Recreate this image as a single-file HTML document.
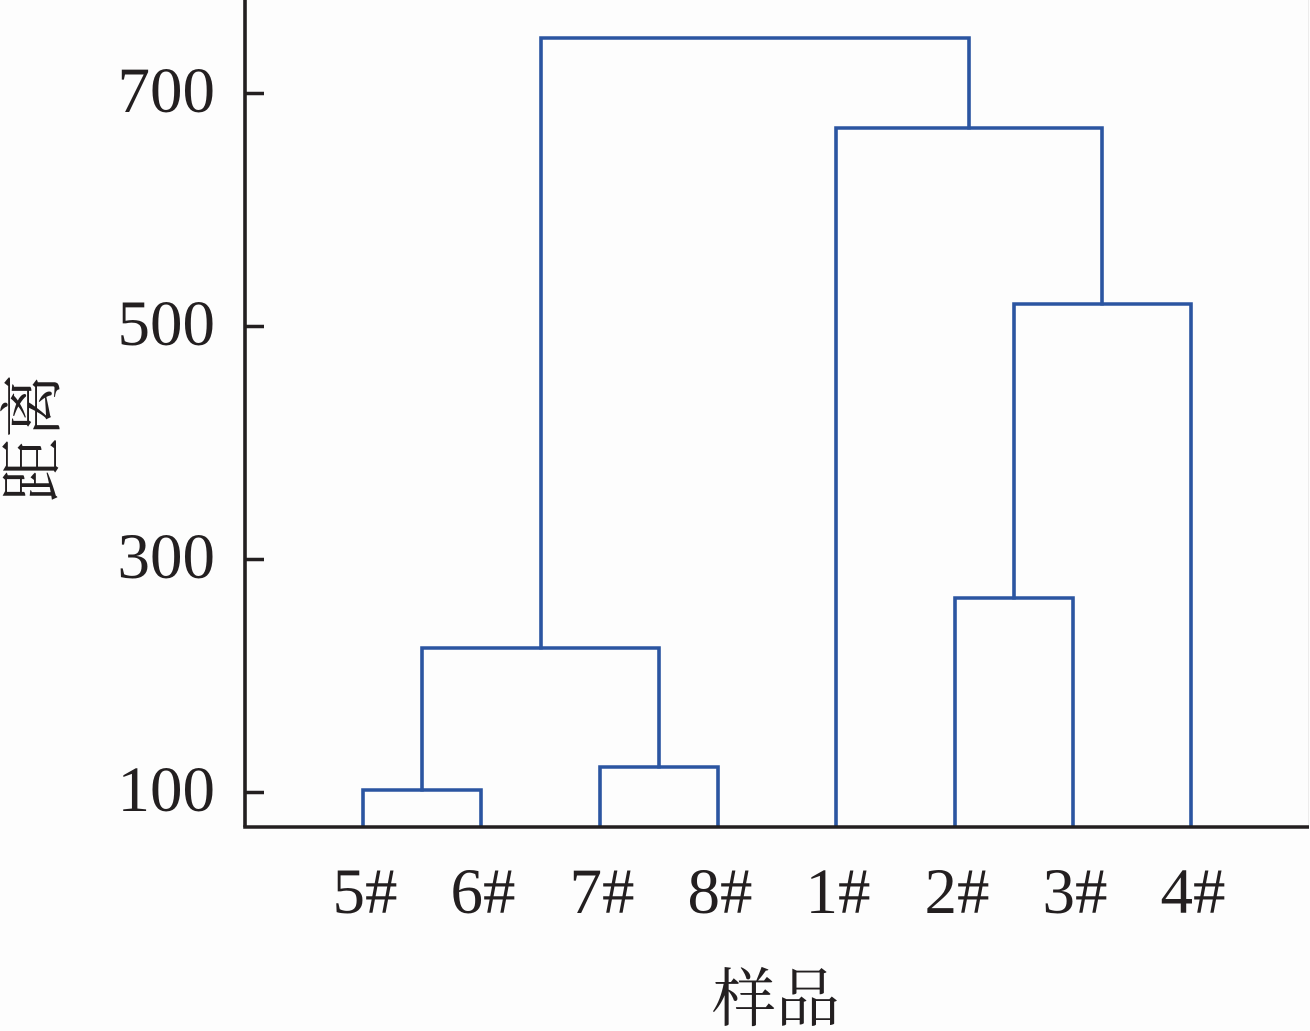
<!DOCTYPE html>
<html><head><meta charset="utf-8">
<style>
html,body{margin:0;padding:0;background:#fdfdfd;}
svg{display:block;}
.num{font-family:"Liberation Serif","Times New Roman",serif;font-size:65px;fill:#231f20;}
.cjk{font-family:"Liberation Serif","Noto Serif CJK SC",serif;font-size:64px;fill:#231f20;}
</style></head>
<body>
<svg width="1310" height="1031" viewBox="0 0 1310 1031" xmlns="http://www.w3.org/2000/svg">
<rect x="0" y="0" width="1310" height="1031" fill="#fdfdfd"/>
<line x1="1308.5" y1="0" x2="1308.5" y2="826" stroke="#ececec" stroke-width="1"/>
<!-- dendrogram -->
<g fill="none" stroke="#2b55a1" stroke-width="3.6" stroke-linecap="square" stroke-linejoin="miter">
  <polyline points="363,826 363,790 481,790 481,826"/>
  <polyline points="600,826 600,767 718,767 718,826"/>
  <polyline points="422,790 422,648 659,648 659,767"/>
  <polyline points="955,826 955,598 1073,598 1073,826"/>
  <polyline points="1014,598 1014,304 1191,304 1191,826"/>
  <polyline points="836,826 836,128 1102,128 1102,304"/>
  <polyline points="541,648 541,38 969,38 969,128"/>
</g>
<!-- axes -->
<g stroke="#231f20" stroke-width="3.6" fill="none">
  <line x1="245" y1="0" x2="245" y2="827"/>
  <line x1="243.2" y1="827" x2="1309" y2="827"/>
  <line x1="245" y1="93.5" x2="264" y2="93.5"/>
  <line x1="245" y1="326.5" x2="264" y2="326.5"/>
  <line x1="245" y1="559.5" x2="264" y2="559.5"/>
  <line x1="245" y1="792.5" x2="264" y2="792.5"/>
</g>
<g class="num" text-anchor="end">
  <text x="215" y="112">700</text>
  <text x="215" y="345">500</text>
  <text x="215" y="578">300</text>
  <text x="215" y="811">100</text>
</g>
<g class="num" text-anchor="middle">
  <text x="365" y="913">5#</text>
  <text x="483" y="913">6#</text>
  <text x="602" y="913">7#</text>
  <text x="720" y="913">8#</text>
  <text x="838" y="913">1#</text>
  <text x="957" y="913">2#</text>
  <text x="1075" y="913">3#</text>
  <text x="1193" y="913">4#</text>
</g>
<text class="cjk" x="776" y="1021" text-anchor="middle">样品</text>
<text class="cjk" transform="translate(33,438) rotate(-90)" text-anchor="middle" dominant-baseline="central">距离</text>
</svg>
</body></html>
